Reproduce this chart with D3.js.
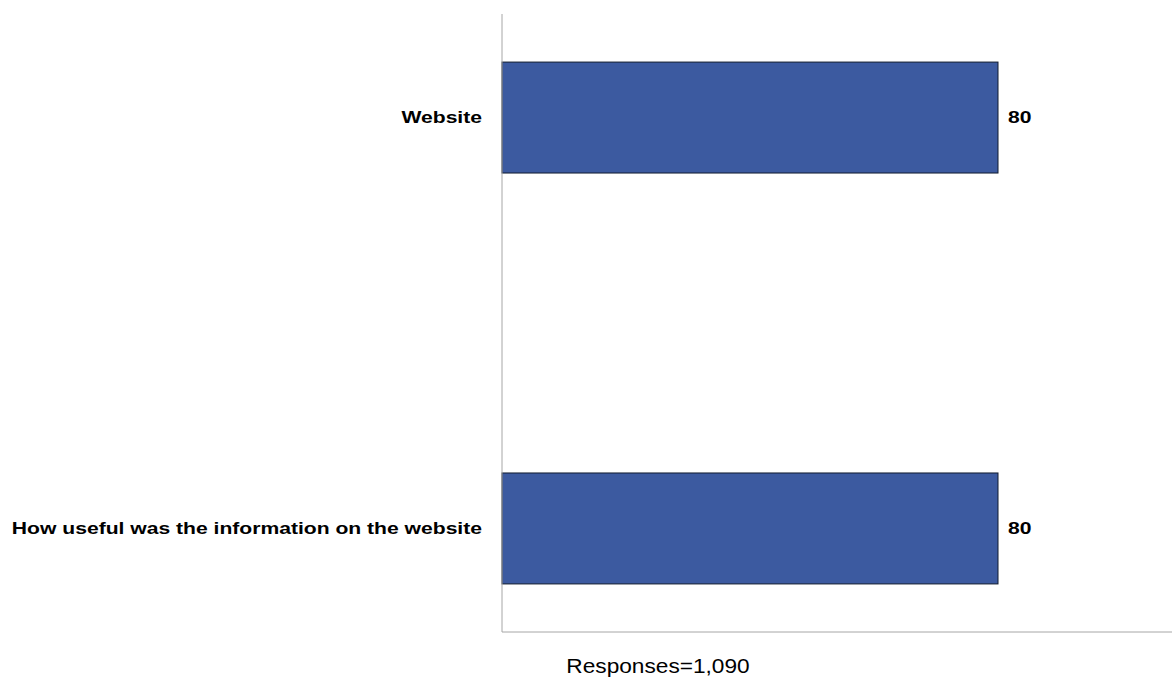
<!DOCTYPE html>
<html>
<head>
<meta charset="utf-8">
<script src="https://cdn.jsdelivr.net/npm/d3@7"></script>
<style>
  html, body { margin: 0; padding: 0; background: #fff; }
  svg { display: block; }
  text { font-family: "Liberation Sans", Arial, sans-serif; }
</style>
</head>
<body>
<svg id="chart" width="1172" height="677"></svg>
<script>
// Survey results: one score per question
const categories = ["Website", "How useful was the information on the website"];
const values = [80, 80];
const responsesLabel = "Responses=1,090";

const svg = d3.select("#chart");

const plot = { left: 502, right: 1172, top: 14, bottom: 632 };
const labelStretch = 1.32; // wide bold label face

// Horizontal value scale; the plot area runs past 100 to the page edge
const x = d3.scaleLinear()
  .domain([0, 100])
  .range([plot.left, plot.left + 620]);

const y = d3.scaleBand()
  .domain(categories)
  .range([plot.top, plot.bottom])
  .paddingInner(0.73)
  .paddingOuter(0.117);

// Bars
svg.append("g")
  .selectAll("rect")
  .data(categories)
  .join("rect")
  .attr("x", x(0))
  .attr("y", d => y(d))
  .attr("width", (d, i) => x(values[i]) - x(0))
  .attr("height", y.bandwidth())
  .attr("fill", "#3C5AA0")
  .attr("stroke", "#111a2e")
  .attr("stroke-width", 1);

// Axis lines
svg.append("line")
  .attr("x1", plot.left).attr("x2", plot.left)
  .attr("y1", plot.top).attr("y2", plot.bottom)
  .attr("stroke", "#a6a6a6").attr("stroke-width", 1);
svg.append("line")
  .attr("x1", plot.left).attr("x2", plot.right)
  .attr("y1", plot.bottom).attr("y2", plot.bottom)
  .attr("stroke", "#a6a6a6").attr("stroke-width", 1);

// Category labels
svg.append("g")
  .selectAll("text")
  .data(categories)
  .join("text")
  .attr("transform", d => `translate(${plot.left - 20},${y(d) + y.bandwidth() / 2}) scale(${labelStretch},1)`)
  .attr("dy", "0.35em")
  .attr("text-anchor", "end")
  .attr("font-size", 16)
  .attr("font-weight", "bold")
  .attr("fill", "#000")
  .text(d => d);

// Value labels
svg.append("g")
  .selectAll("text")
  .data(categories)
  .join("text")
  .attr("transform", (d, i) => `translate(${x(values[i]) + 10},${y(d) + y.bandwidth() / 2}) scale(${labelStretch},1)`)
  .attr("dy", "0.35em")
  .attr("font-size", 16)
  .attr("font-weight", "bold")
  .attr("fill", "#000")
  .text((d, i) => values[i]);

// Response count
svg.append("text")
  .attr("transform", "translate(658,673) scale(1.08,1)")
  .attr("text-anchor", "middle")
  .attr("font-size", 21)
  .attr("fill", "#000")
  .text(responsesLabel);
</script>
</body>
</html>
